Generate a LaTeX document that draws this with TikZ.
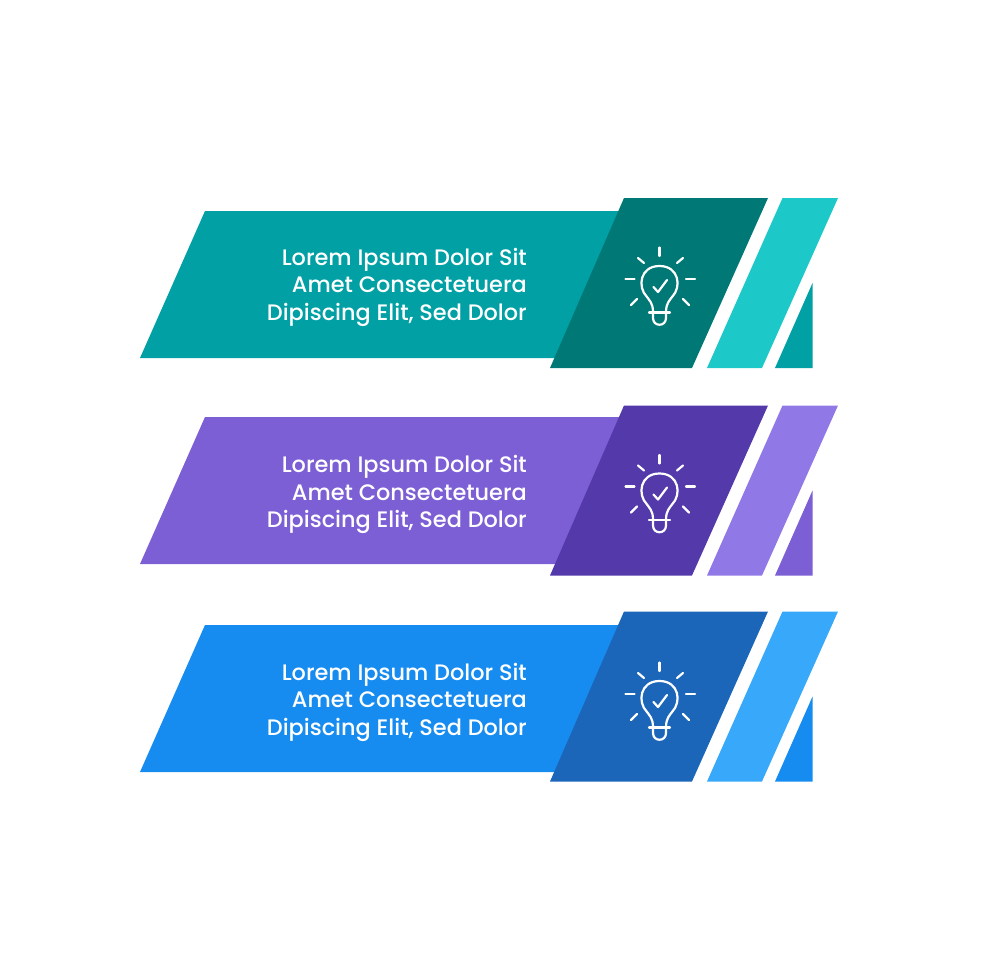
\documentclass[tikz,border=0pt]{standalone}
\usepackage{fontspec}
\setmainfont{Poppins Medium}
\definecolor{tealbar}{HTML}{00A0A5}
\definecolor{tealplate}{HTML}{007876}
\definecolor{teallight}{HTML}{1CC8C8}
\definecolor{purplebar}{HTML}{7D5FD5}
\definecolor{purpleplate}{HTML}{5339AA}
\definecolor{purplelight}{HTML}{9079E6}
\definecolor{bluebar}{HTML}{178CF0}
\definecolor{blueplate}{HTML}{1C66BA}
\definecolor{bluelight}{HTML}{38A8FA}

\begin{document}
\begin{tikzpicture}[x=1pt,y=-1pt,
    caption/.style={text=white, align=right, anchor=east, font=\fontsize{22.4}{27.5}\selectfont, inner sep=0pt},
    bulbline/.style={draw=white, line width=2.2pt, line cap=round, line join=round}]
        \useasboundingbox (0,0) rectangle (980,980);
        % Rows
        \foreach \row/\ybar/\yplate/\ytip/\barcol/\platecol/\lightcol in {
            a/0/0/0/tealbar/tealplate/teallight,
            b/206/207.5/207.5/purplebar/purpleplate/purplelight,
            c/414/413.5/415/bluebar/blueplate/bluelight}{
            \fill[\barcol] (205,211+\ybar) -- (640,211+\ybar) -- (570,358+\ybar) -- (140,358+\ybar) -- cycle;
            \fill[\platecol] (624,198+\yplate) -- (768,198+\yplate) -- (692,368+\yplate) -- (550,368+\yplate) -- cycle;
            \fill[\lightcol] (782.5,198+\yplate) -- (838,198+\yplate) -- (762,368+\yplate) -- (707,368+\yplate) -- cycle;
            \fill[\barcol] (812.5,283+\yplate) -- (812.5,368+\yplate) -- (775,368+\yplate) -- cycle;
            \node[caption] (text\row) at (527,287+\ytip) {Lorem Ipsum Dolor Sit\\Amet Consectetuera\\Dipiscing Elit, Sed Dolor};
            % Bulb
            \begin{scope}[shift={(0,\ytip)}]
                \draw[bulbline] (659.5,247.5) -- (659.5,256);
                \draw[bulbline] (625.5,279) -- (634.5,279);
                \draw[bulbline] (686,279) -- (695,279);
                \draw[bulbline] (638,258) -- (644,263);
                \draw[bulbline] (683,258) -- (677,263);
                \draw[bulbline] (631,305) -- (637,299);
                \draw[bulbline] (689,305) -- (683,299);
                \draw[bulbline] (653,312) .. controls (653,303) and (649,300) .. (647,297)
                    .. controls (637,287) and (640,266) .. (659.5,266)
                    .. controls (679,266) and (682,287) .. (672,297)
                    .. controls (670,300) and (666,303) .. (666,312);
                \draw[bulbline] (649,312.5) -- (670,312.5);
                \draw[bulbline] (653,312.5) -- (653,318) .. controls (653,327) and (666,327) .. (666,318) -- (666,312.5);
                \draw[bulbline] (653.5,287) -- (658,292) -- (667,280);
            \end{scope}
        }
\end{tikzpicture}
\end{document}
